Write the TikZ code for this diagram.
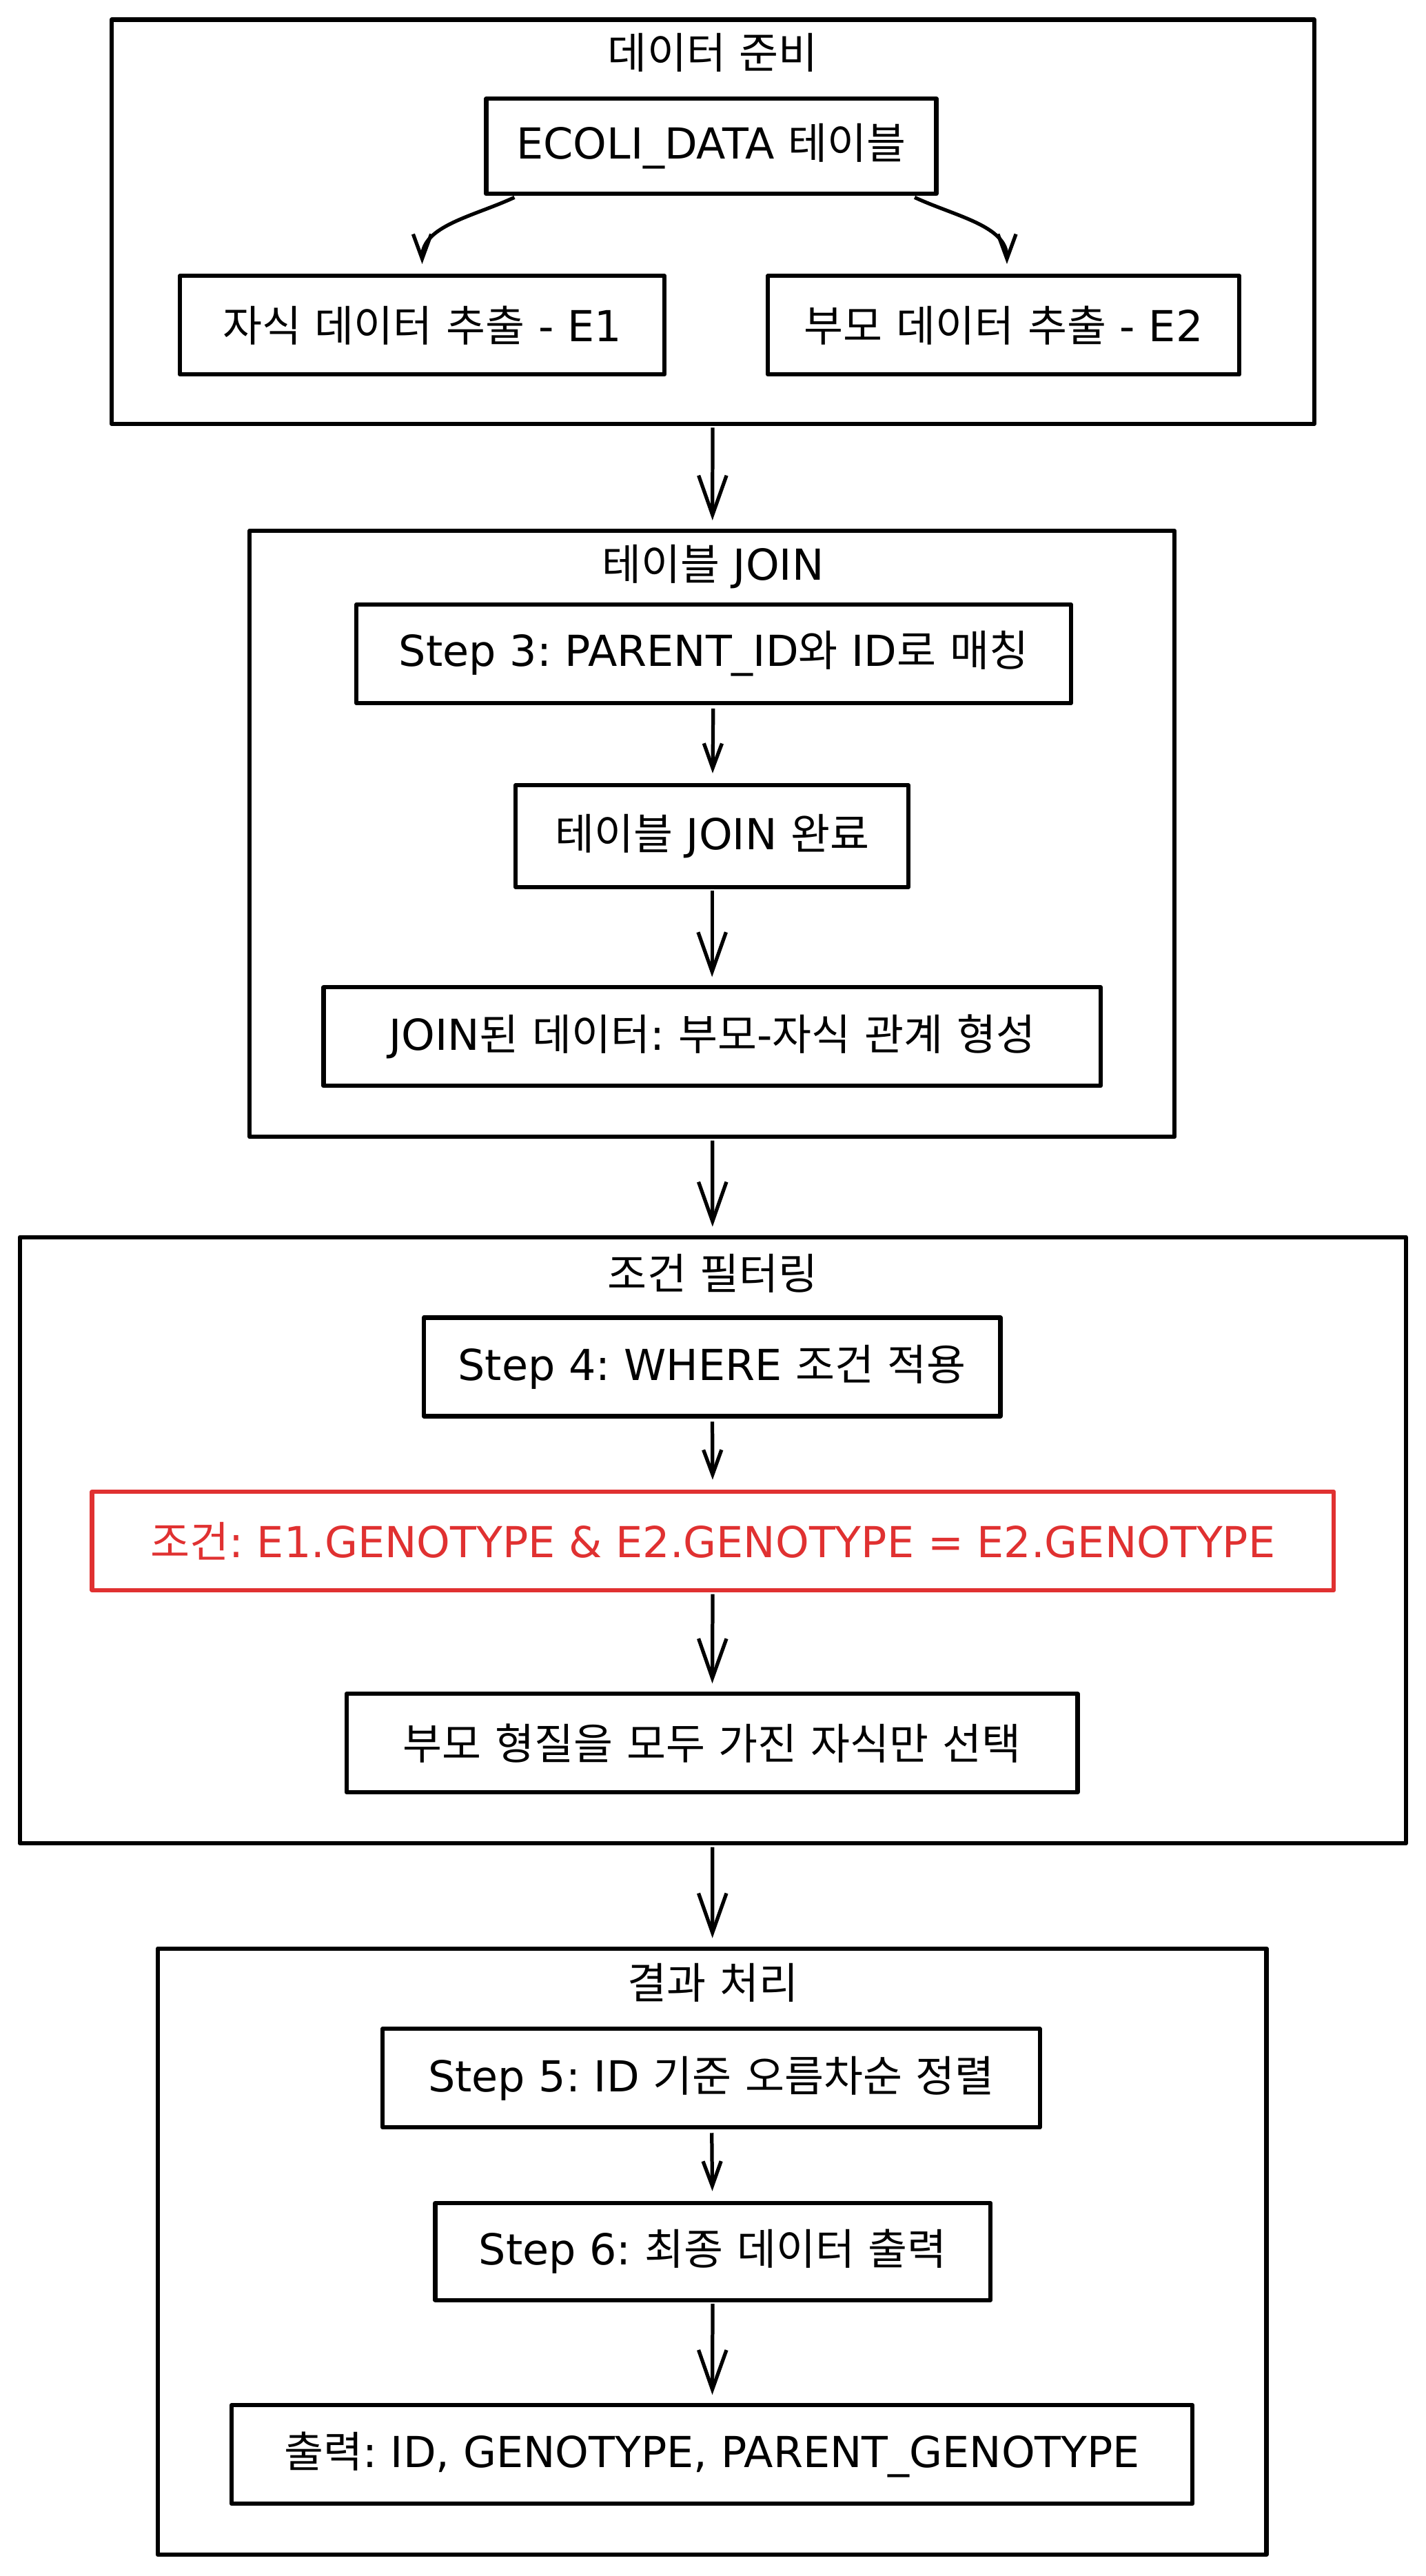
\documentclass[tikz,border=0pt]{standalone}
\usepackage{fontspec}
\setmainfont{DejaVu Sans}
\newfontfamily\krfont{Noto Sans CJK KR}
%% 한글은 Noto Sans CJK KR로 자동 전환
\XeTeXinterchartokenstate=1
\newXeTeXintercharclass\hangulclass
\count255="AC00
\loop
  \XeTeXcharclass\count255=\hangulclass
  \advance\count255 by 1
\ifnum\count255<"D7A4\relax\repeat
\XeTeXinterchartoks 0 \hangulclass={\krfont}
\XeTeXinterchartoks 4095 \hangulclass={\krfont}
\XeTeXinterchartoks \hangulclass 0={\rmfamily}
\XeTeXinterchartoks \hangulclass 4095={\rmfamily}
\frenchspacing
\usetikzlibrary{arrows.meta}
\definecolor{dohong}{HTML}{E03131}
\begin{document}
\begin{tikzpicture}[x=1pt,y=-1pt,line join=round,font={\fontsize{26}{30}\selectfont},
	hop/.style={draw,line width=2.6pt,minimum height=60pt,inner sep=0pt},
	cum/.style={draw,line width=2.6pt,inner sep=0pt,minimum height=369pt},
	muiten/.style={-{Straight Barb[length=24pt,width=17pt,line width=2.2pt]},line width=2.2pt,shorten >=5pt,shorten <=1pt},
	muitennho/.style={-{Straight Barb[length=15pt,width=11pt,line width=2.2pt]},line width=2.2pt,shorten >=6pt,shorten <=2pt}]
	%%Khung hình
	\def \W{868}
	\def \H{1568}
	\fill[white] (0,0) rectangle (\W,\H);
	\useasboundingbox (0,0) rectangle (\W,\H);
	%%데이터 준비
	\node[cum,minimum width=732pt,minimum height=246pt] (g1) at (434,135) {};
	\node (t1) at (434,32) {데이터 준비};
	\node[hop,minimum width=274pt,minimum height=58pt] (ecoli) at (433,89) {ECOLI\_DATA 테이블};
	\node[hop,minimum width=295pt] (e1) at (257,198) {자식 데이터 추출 - E1};
	\node[hop,minimum width=287pt] (e2) at (611,198) {부모 데이터 추출 - E2};
	\draw[muitennho] ([xshift=-118pt]ecoli.south) to[out=205,in=90] (e1.north);
	\draw[muitennho] ([xshift=122pt]ecoli.south) to[out=-25,in=90] ([xshift=2pt]e2.north);
	%%테이블 JOIN
	\node[cum,minimum width=563pt] (g2) at (433.5,507.5) {};
	\node (t2) at (434,345) {테이블 JOIN};
	\node[hop,minimum width=435pt] (s3) at (434.5,398) {Step 3: PARENT\_ID와 ID로 매칭};
	\node[hop,minimum width=239pt,minimum height=62pt] (jdone) at (433.5,509) {테이블 JOIN 완료};
	\node[hop,minimum width=473pt] (jdata) at (433.5,631) {JOIN된 데이터: 부모-자식 관계 형성};
	\draw[muitennho] (s3) -- (jdone);
	\draw[muiten] (jdone) -- (jdata);
	%%조건 필터링
	\node[cum,minimum width=844pt] (g3) at (434,937.5) {};
	\node (t3) at (434,775) {조건 필터링};
	\node[hop,minimum width=351pt] (s4) at (433.5,832) {Step 4: WHERE 조건 적용};
	\node[hop,draw=dohong,text=dohong,minimum width=756pt] (cond) at (434,938) {조건: E1.GENOTYPE \& E2.GENOTYPE = E2.GENOTYPE};
	\node[hop,minimum width=445pt] (sel) at (433.5,1061) {부모 형질을 모두 가진 자식만 선택};
	\draw[muitennho] (s4) -- (cond);
	\draw[muiten] (cond) -- (sel);
	%%결과 처리
	\node[cum,minimum width=675pt] (g4) at (433.5,1370.5) {};
	\node (t4) at (434,1207) {결과 처리};
	\node[hop,minimum width=400pt] (s5) at (433,1265) {Step 5: ID 기준 오름차순 정렬};
	\node[hop,minimum width=338pt,minimum height=59pt] (s6) at (434,1370.5) {Step 6: 최종 데이터 출력};
	\node[hop,minimum width=585pt] (out) at (433.5,1494) {출력: ID, GENOTYPE, PARENT\_GENOTYPE};
	\draw[muitennho] (s5) -- (s6);
	\draw[muiten] (s6) -- (out);
	%%Nối các nhóm
	\draw[muiten] (g1) -- (g2);
	\draw[muiten] (g2) -- (g3);
	\draw[muiten] (g3) -- (g4);
\end{tikzpicture}
\end{document}
